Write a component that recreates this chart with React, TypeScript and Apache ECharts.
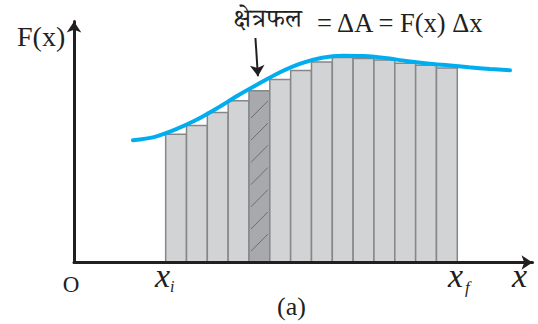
import React, { useEffect, useRef } from "react";
import * as echarts from "echarts";

// x in units of one strip width (Δx), y in units of F(x)
const xAxisMax = 22.01;
const yAxisMax = 9.78;
const barStart = 4.4; // x_i
const barHeights = [5.2, 5.56, 6.09, 6.56, 6.97, 7.43, 7.79, 8.14, 8.32, 8.28, 8.22, 8.09, 8.0, 7.89];
const hatchedBar = 4;
const curveX = [2.83, 3.84, 4.85, 5.86, 6.87, 7.87, 8.88, 9.89, 10.9, 11.91, 12.91, 13.92, 14.93, 15.94, 16.95, 17.95, 18.96, 19.97, 20.93];
const curveY = [4.96, 5.09, 5.39, 5.78, 6.26, 6.78, 7.26, 7.72, 8.08, 8.31, 8.39, 8.38, 8.3, 8.18, 8.08, 8.0, 7.92, 7.85, 7.8];
const arrowFrom = [8.71, 9.11];
const arrowTo = [8.83, 7.56];

const yLabel = "F(x)";
const originLabel = "O";
const annotationHindi = "क्षेत्रफल";
const annotationMath = "= ΔA = F(x) Δx";
const xVar = "x";
const subI = "i";
const subF = "f";
const caption = "(a)";

const INK = "#231f20";
const SERIF = "Liberation Serif";
const DEVA = "Noto Serif Devanagari, Noto Sans Devanagari, Noto Sans, serif";

function txt(text: string, x: number, y: number, size: number, opts: any = {}) {
  const style: any = {
    text,
    fontFamily: opts.family || SERIF,
    fontSize: size,
    fill: INK,
    align: opts.align || "left",
    verticalAlign: "middle",
    legacy: false,
  };
  if (opts.italic) style.fontStyle = "italic";
  return { type: "text", x, y, z: 10, style };
}

export default function App() {
  const ref = useRef<HTMLDivElement>(null);
  useEffect(() => {
    if (!ref.current) return;
    const chart = echarts.init(ref.current, undefined, { renderer: "svg" });
    const axisCommon = {
      type: "value",
      min: 0,
      z: 5,
      axisLabel: { show: false },
      axisTick: { show: false },
      splitLine: { show: false },
      axisLine: {
        show: true,
        symbol: ["none", "arrow"],
        symbolSize: [11, 11],
        lineStyle: { color: INK, width: 3 },
      },
    };
    chart.setOption({
      animation: false,
      grid: { left: 74, right: 5.5, top: 21.5, bottom: 61.5 },
      xAxis: { ...axisCommon, max: xAxisMax },
      yAxis: { ...axisCommon, max: yAxisMax },
      series: [
        {
          type: "custom",
          z: 2,
          data: barHeights.map((h, i) => [barStart + i, h, i]),
          encode: { x: 0, y: 1 },
          renderItem: (params: any, api: any) => {
            const x = api.value(0);
            const h = api.value(1);
            const idx = api.value(2);
            const p0 = api.coord([x, 0]);
            const p1 = api.coord([x + 1, h]);
            const rect = {
              type: "rect",
              shape: { x: p0[0], y: p1[1], width: p1[0] - p0[0], height: p0[1] - p1[1] },
              style: {
                fill: idx === hatchedBar ? "#a7a9ac" : "#d1d3d4",
                stroke: "#868789",
                lineWidth: 1.5,
              },
            };
            if (idx !== hatchedBar) return rect;
            const children: any[] = [rect];
            const rise = 17;
            const gap = 22.2;
            for (let yb = p0[1] - 11.3; yb - rise > p1[1] + 2; yb -= gap) {
              children.push({
                type: "line",
                shape: { x1: p0[0] + 2, y1: yb, x2: p1[0] - 2, y2: yb - rise },
                style: { stroke: "#6d6e71", lineWidth: 1 },
              });
            }
            return { type: "group", children };
          },
        },
        {
          type: "line",
          z: 3,
          smooth: 0.3,
          showSymbol: false,
          data: curveX.map((x, i) => [x, curveY[i]]),
          lineStyle: { color: "#00aeef", width: 4, cap: "round" },
          markLine: {
            silent: true,
            symbol: ["none", "arrow"],
            symbolSize: [11, 11],
            label: { show: false },
            lineStyle: { color: INK, width: 2, type: "solid" },
            data: [[{ coord: arrowFrom }, { coord: arrowTo }]],
          },
        },
      ],
      graphic: [
        txt(yLabel, 17, 36.5, 28),
        txt(annotationHindi, 233, 23, 26, { family: DEVA }),
        txt(annotationMath, 317, 23, 26.5),
        txt(originLabel, 71, 284.5, 23, { align: "center" }),
        txt(xVar, 155, 275, 34, { italic: true }),
        txt(subI, 170, 286, 16, { italic: true }),
        txt(xVar, 448, 275, 34, { italic: true }),
        txt(subF, 465, 287, 17, { italic: true }),
        txt(xVar, 512, 275, 34, { italic: true }),
        txt(caption, 277, 306, 26),
      ],
    });
    return () => chart.dispose();
  }, []);
  return (
    <div
      ref={ref}
      style={{ position: "fixed", left: 0, top: 0, width: 538, height: 324, background: "#fff" }}
    />
  );
}
